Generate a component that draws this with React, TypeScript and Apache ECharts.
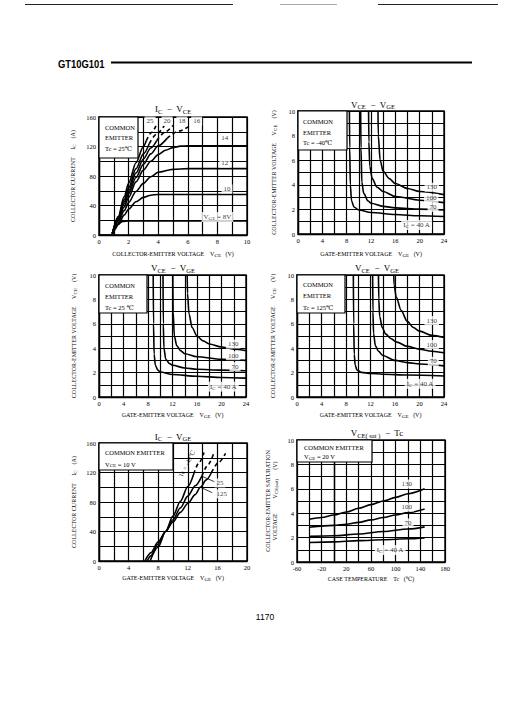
import React, { useEffect, useRef } from 'react';
import * as echarts from 'echarts';

const FONT = '"Liberation Serif", "DejaVu Serif", serif';

// ---------- Chart 1 : IC - VCE (Tc = 25°C) ----------
const vge8 = [[0, 0], [0.8, 0], [0.95, 2], [1.1, 8], [1.3, 15], [1.6, 18.5], [2, 19], [10, 19]];
const vge10 = [[0.9, 2], [1.3, 14], [1.7, 27], [2, 35], [2.5, 45], [3, 51], [3.5, 54], [4, 55], [10, 55]];
const vge12 = [[0.9, 2], [1.3, 17], [1.7, 33], [2, 44], [2.5, 59], [3, 70], [3.5, 79], [4, 85], [5, 89], [6, 90], [10, 90]];
const vge14 = [[0.9, 2], [1.3, 19], [1.7, 38], [2, 51], [2.5, 72], [3, 88], [3.5, 100], [4, 109], [4.5, 115], [5, 118.5], [5.5, 120.5], [6, 121], [10, 121]];
const vge16 = [[0.9, 2], [1.3, 21], [1.7, 42], [2, 56], [2.5, 78], [3, 96], [3.5, 110], [4, 121], [4.6, 131]];
const vge16d = [[4.6, 131], [5.4, 141], [6.2, 149]];
const vge18 = [[0.9, 2], [1.3, 22], [1.7, 45], [2, 60], [2.5, 84], [3, 103], [3.5, 118], [3.9, 128]];
const vge18d = [[3.9, 128], [4.5, 140], [5.0, 149]];
const vge20 = [[0.9, 2], [1.3, 23], [1.7, 48], [2, 64], [2.5, 90], [3, 110], [3.4, 124]];
const vge20d = [[3.4, 124], [3.9, 137], [4.4, 148]];
const vge25 = [[0.9, 2], [1.3, 25], [1.7, 52], [2, 70], [2.5, 98], [3, 120], [3.2, 128]];
const vge25d = [[3.2, 128], [3.55, 139], [3.85, 148]];
const labels1 = [
  { x: 3.45, y: 154.5, t: '25' }, { x: 4.6, y: 154.5, t: '20' }, { x: 5.6, y: 154.5, t: '18' },
  { x: 6.6, y: 154.5, t: '16' }, { x: 8.5, y: 131, t: '14' }, { x: 8.5, y: 97.5, t: '12' },
  { x: 8.65, y: 62.5, t: '10' }, { x: 8.0, y: 24.5, t: 'V{s|GE} = 8V' },
];

// ---------- Chart 2 : VCE - VGE (Tc = -40°C) ----------
const m40_40 = [[8.45, 10], [8.5, 7], [8.6, 4], [8.8, 2.7], [9.2, 2.2], [10, 1.95], [12, 1.75], [16, 1.58], [20, 1.48], [24, 1.42]];
const m40_70 = [[10.3, 10], [10.35, 7], [10.5, 4.2], [10.8, 3.3], [11.5, 2.7], [12, 2.5], [14, 2.25], [16, 2.12], [20, 2.02], [24, 1.95]];
const m40_100 = [[11.6, 10], [11.65, 7.5], [11.8, 5.5], [12.2, 4.5], [13, 3.8], [14, 3.45], [16, 3.05], [20, 2.75], [24, 2.55]];
const m40_130 = [[13.15, 10], [13.2, 8], [13.5, 6], [14, 5.1], [15, 4.5], [16, 4.1], [18, 3.7], [20, 3.45], [24, 3.2]];
const labels2 = [
  { x: 22.0, y: 3.8, t: '130' }, { x: 21.9, y: 2.9, t: '100' }, { x: 22.2, y: 2.17, t: '70' },
  { x: 19.5, y: 0.73, t: 'I{s|C} = 40 A' },
];

// ---------- Chart 3 : VCE - VGE (Tc = 25°C) ----------
const t25_40 = [[8.85, 10], [8.9, 6], [9.0, 3.5], [9.2, 2.6], [9.6, 2.2], [10, 2.05], [12, 1.85], [16, 1.7], [20, 1.6], [24, 1.55]];
const t25_70 = [[10.45, 10], [10.5, 6], [10.6, 4], [10.9, 3.1], [11.5, 2.75], [12, 2.6], [14, 2.38], [16, 2.27], [20, 2.2], [24, 2.15]];
const t25_100 = [[12.05, 10], [12.1, 7], [12.3, 5], [12.7, 4.2], [13.3, 3.8], [14, 3.55], [16, 3.3], [20, 3.1], [24, 3.0]];
const t25_130 = [[14.4, 10], [14.45, 8.5], [14.7, 6.8], [15.2, 5.7], [16, 5.0], [17, 4.6], [18, 4.35], [20, 4.1], [22, 3.92], [24, 3.8]];
const labels3 = [
  { x: 21.9, y: 4.34, t: '130' }, { x: 21.9, y: 3.39, t: '100' }, { x: 22.2, y: 2.49, t: '70' },
  { x: 20.3, y: 0.85, t: 'I{s|C} = 40 A' },
];

// ---------- Chart 4 : VCE - VGE (Tc = 125°C) ----------
const t125_40 = [[9.2, 10], [9.25, 6], [9.35, 3.5], [9.5, 2.6], [9.8, 2.2], [10.5, 2.02], [12, 1.93], [14, 1.87], [18, 1.8], [24, 1.72]];
const t125_70 = [[12.35, 10], [12.4, 7], [12.5, 5.2], [12.8, 4.2], [13.3, 3.75], [14, 3.4], [16, 3.0], [18, 2.82], [20, 2.7], [24, 2.55]];
const t125_100 = [[13.3, 10], [13.35, 8], [13.5, 6.6], [13.9, 5.7], [14.5, 5.15], [15.3, 4.8], [16.3, 4.5], [18, 4.15], [20, 3.92], [22, 3.75], [24, 3.62]];
const t125_130 = [[15.8, 10], [15.85, 9.2], [16.2, 8.2], [17, 7.1], [18, 6.2], [19, 5.7], [20, 5.4], [22, 5.05], [24, 4.88]];
const labels4 = [
  { x: 22.0, y: 6.27, t: '130' }, { x: 22.0, y: 4.3, t: '100' }, { x: 22.25, y: 2.93, t: '70' },
  { x: 20.1, y: 1.08, t: 'I{s|C} = 40 A' },
];

// ---------- Chart 5 : IC - VGE (VCE = 10 V) ----------
const tcM40 = [[6.9, 0], [8, 19], [9, 40], [10, 61], [11, 81], [12, 101], [12.8, 118]];
const tcM40d = [[12.8, 118], [13.5, 133], [14.2, 147]];
const tc25 = [[6.5, 0], [7, 7], [8, 23], [9, 40], [10, 56], [11, 72], [12, 88], [13, 102], [13.9, 115]];
const tc25d = [[13.9, 115], [14.7, 130], [15.5, 146]];
const tc125 = [[6.2, 0], [7, 11], [8, 26], [9, 40], [10, 53], [11, 66], [12, 78], [13, 90], [13.7, 100], [14.5, 110], [15.2, 120]];
const tc125d = [[15.2, 120], [16.2, 134], [17.1, 146]];
const leader25 = [[13.9, 115], [15.6, 107.5]];
const leader125 = [[13.7, 100], [15.3, 92.6]];
const labels5 = [{ x: 16.35, y: 105.8, t: '25' }, { x: 16.6, y: 91, t: '125' }];

// ---------- Chart 6 : VCE(sat) - Tc (VGE = 20 V) ----------
const sat130 = [[-40, 3.5], [-20, 3.65], [0, 3.85], [20, 4.1], [40, 4.4], [60, 4.7], [80, 5.0], [100, 5.3], [120, 5.6], [147, 6.0]];
const sat100 = [[-40, 2.85], [0, 3.0], [20, 3.1], [40, 3.25], [60, 3.45], [80, 3.65], [100, 3.85], [120, 4.05], [147, 4.35]];
const sat70 = [[-40, 2.1], [0, 2.15], [40, 2.3], [80, 2.5], [120, 2.7], [147, 2.88]];
const sat40 = [[-40, 1.6], [0, 1.65], [40, 1.75], [80, 1.82], [120, 1.9], [147, 1.97]];
const labels6 = [
  { x: 118, y: 6.39, t: '130' }, { x: 118, y: 4.5, t: '100' }, { x: 120, y: 3.2, t: '70' },
  { x: 91, y: 0.98, t: 'I{s|C} = 40 A' },
];

const SUB = { s: { fontSize: 5, fontFamily: FONT, color: '#000', padding: [3, 0, 0, 0] } };
const GRIDLINE = { color: '#000', width: 1.2 };

function xAx(gi: number, min: number, max: number, interval: number, every: number, name: string, gap: number) {
  return {
    type: 'value', gridIndex: gi, min, max, interval,
    name, nameLocation: 'middle', nameGap: gap,
    nameTextStyle: { fontSize: 6, fontFamily: FONT, color: '#000', rich: SUB },
    axisLine: { show: true, lineStyle: { color: '#000', width: 1.4 } },
    axisTick: { show: false },
    axisLabel: {
      fontSize: 6.5, fontFamily: FONT, color: '#000', margin: 3,
      formatter: (v: number) => (Math.round((v - min) / interval) % every === 0 ? String(v) : ''),
    },
    splitLine: { show: true, lineStyle: GRIDLINE },
  };
}
function yAx(gi: number, min: number, max: number, interval: number, every: number, name: string, gap: number) {
  return {
    type: 'value', gridIndex: gi, min, max, interval,
    name, nameLocation: 'middle', nameGap: gap, nameRotate: 90,
    nameTextStyle: { fontSize: 6, fontFamily: FONT, color: '#000', rich: SUB, lineHeight: 7 },
    axisLine: { show: true, lineStyle: { color: '#000', width: 1.4 } },
    axisTick: { show: false },
    axisLabel: {
      fontSize: 6.5, fontFamily: FONT, color: '#000', margin: 3,
      formatter: (v: number) => (Math.round((v - min) / interval) % every === 0 ? String(v) : ''),
    },
    splitLine: { show: true, lineStyle: GRIDLINE },
  };
}
function curve(gi: number, data: number[][], dashed = false, width = 1.6) {
  return {
    type: 'line', xAxisIndex: gi, yAxisIndex: gi, data, symbol: 'none', silent: true,
    smooth: 0.3, smoothMonotone: 'x', z: 3,
    lineStyle: { color: '#000', width, type: dashed ? [4, 3] : 'solid' },
  };
}
function labelSeries(gi: number, items: { x: number; y: number; t: string }[]) {
  return {
    type: 'scatter', xAxisIndex: gi, yAxisIndex: gi, symbolSize: 1, silent: true, z: 6,
    itemStyle: { color: 'rgba(0,0,0,0)' },
    data: items.map((it) => ({ value: [it.x, it.y], name: it.t })),
    label: {
      show: true, position: 'inside', formatter: '{b}', color: '#000', fontSize: 7, fontFamily: FONT,
      textBorderWidth: 0, backgroundColor: '#fff', padding: [1, 2], rich: SUB,
    },
  };
}
function title(x: number, y: number, text: string) {
  return {
    type: 'text', x, y, z: 20,
    style: { text, fill: '#000', fontSize: 9, fontFamily: FONT, align: 'center', verticalAlign: 'middle', rich: { s: { fontSize: 6.5, fontFamily: FONT, fill: '#000', padding: [4, 0, 0, 0] } } },
  };
}
function box(x: number, y: number, w: number, h: number, lines: { t: string; dy: number }[], tx: number) {
  return {
    type: 'group', x, y, z: 30,
    children: [
      { type: 'rect', shape: { x: 0, y: 0, width: w, height: h }, style: { fill: '#fff', stroke: '#000', lineWidth: 1.2 }, z: 30 },
      ...lines.map((l) => ({
        type: 'text', x: tx, y: l.dy, z: 31,
        style: { text: l.t, fill: '#000', fontSize: 6.5, fontFamily: FONT, verticalAlign: 'middle', rich: SUB },
      })),
    ],
  };
}

export default function App() {
  const ref = useRef<HTMLDivElement>(null);
  useEffect(() => {
    if (!ref.current) return;
    const chart = echarts.init(ref.current, undefined, { renderer: 'svg' });
    const gridBase = { show: true, borderColor: '#000', borderWidth: 1.4, backgroundColor: 'transparent' };
    chart.setOption({
      animation: false,
      backgroundColor: '#fff',
      grid: [
        { ...gridBase, left: 99, top: 117, width: 148, height: 118 },
        { ...gridBase, left: 298, top: 111, width: 146, height: 123 },
        { ...gridBase, left: 99, top: 275, width: 147, height: 122 },
        { ...gridBase, left: 297, top: 275, width: 147, height: 122 },
        { ...gridBase, left: 99, top: 443, width: 148, height: 118 },
        { ...gridBase, left: 297, top: 440, width: 148, height: 122 },
      ],
      xAxis: [
        xAx(0, 0, 10, 1, 2, 'COLLECTOR-EMITTER VOLTAGE    V{s|CE}   (V)', 15),
        xAx(1, 0, 24, 2, 2, 'GATE-EMITTER VOLTAGE    V{s|GE}   (V)', 16),
        xAx(2, 0, 24, 2, 2, 'GATE-EMITTER VOLTAGE    V{s|GE}   (V)', 14),
        xAx(3, 0, 24, 2, 2, 'GATE-EMITTER VOLTAGE    V{s|GE}   (V)', 14),
        xAx(4, 0, 20, 2, 2, 'GATE-EMITTER VOLTAGE    V{s|GE}   (V)', 13),
        xAx(5, -60, 180, 20, 2, 'CASE TEMPERATURE    Tc   (℃)', 14),
      ],
      yAxis: [
        yAx(0, 0, 160, 20, 2, 'COLLECTOR CURRENT     I{s|C}    (A)', 23),
        yAx(1, 0, 10, 1, 2, 'COLLECTOR-EMITTER VOLTAGE     V{s|CE}    (V)', 21),
        yAx(2, 0, 10, 1, 2, 'COLLECTOR-EMITTER VOLTAGE     V{s|CE}    (V)', 22),
        yAx(3, 0, 10, 1, 2, 'COLLECTOR-EMITTER VOLTAGE     V{s|CE}    (V)', 21),
        yAx(4, 0, 160, 20, 2, 'COLLECTOR CURRENT     I{s|C}    (A)', 22),
        yAx(5, 0, 10, 1, 2, 'COLLECTOR-EMITTER SATURATION\nVOLTAGE          V{s|CE(sat)}      (V)', 19),
      ],
      series: [
        curve(0, vge8), curve(0, vge10), curve(0, vge12), curve(0, vge14),
        curve(0, vge16), curve(0, vge16d, true), curve(0, vge18), curve(0, vge18d, true),
        curve(0, vge20), curve(0, vge20d, true), curve(0, vge25), curve(0, vge25d, true),
        labelSeries(0, labels1),
        curve(1, m40_40), curve(1, m40_70), curve(1, m40_100), curve(1, m40_130), labelSeries(1, labels2),
        curve(2, t25_40), curve(2, t25_70), curve(2, t25_100), curve(2, t25_130), labelSeries(2, labels3),
        curve(3, t125_40), curve(3, t125_70), curve(3, t125_100), curve(3, t125_130), labelSeries(3, labels4),
        curve(4, tcM40), curve(4, tcM40d, true), curve(4, tc25), curve(4, tc25d, true),
        curve(4, tc125), curve(4, tc125d, true),
        curve(4, leader25, false, 0.8), curve(4, leader125, false, 0.8),
        labelSeries(4, labels5),
        {
          type: 'scatter', xAxisIndex: 4, yAxisIndex: 4, symbolSize: 1, silent: true, z: 6,
          itemStyle: { color: 'rgba(0,0,0,0)' },
          data: [{ value: [11.85, 132], name: 'Tc = -40℃' }],
          label: { show: true, position: 'inside', formatter: '{b}', rotate: 63, color: '#000', textBorderWidth: 0, fontSize: 6.5, fontFamily: FONT },
        },
        curve(5, sat130), curve(5, sat100), curve(5, sat70), curve(5, sat40), labelSeries(5, labels6),
      ],
      graphic: [
        // top page lines
        { type: 'line', shape: { x1: 25, y1: 4.5, x2: 233, y2: 4.5 }, style: { stroke: '#222', lineWidth: 1 } },
        { type: 'line', shape: { x1: 280, y1: 4.5, x2: 337, y2: 4.5 }, style: { stroke: '#aaa', lineWidth: 1 } },
        { type: 'line', shape: { x1: 378, y1: 4.5, x2: 498, y2: 4.5 }, style: { stroke: '#222', lineWidth: 1 } },
        // header
        {
          type: 'text', x: 58, y: 64, scaleX: 0.82,
          style: { text: 'GT10G101', fill: '#000', fontSize: 11.5, fontWeight: 'bold', fontFamily: '"Liberation Sans Narrow", "Liberation Sans", Arial, sans-serif', verticalAlign: 'middle' },
        },
        { type: 'line', shape: { x1: 111, y1: 62.5, x2: 472, y2: 62.5 }, style: { stroke: '#000', lineWidth: 2 } },
        // titles
        title(173, 109, 'I{s|C}  −  V{s|CE}'),
        title(373, 104.5, 'V{s|CE}  −  V{s|GE}'),
        title(173, 268, 'V{s|CE}  −  V{s|GE}'),
        title(377, 268, 'V{s|CE}  −  V{s|GE}'),
        title(173, 436.5, 'I{s|C}  −  V{s|GE}'),
        title(377, 433, 'V{s|CE( sat )}  −  Tc'),
        // condition boxes
        box(99, 117, 39, 41, [{ t: 'COMMON', dy: 10 }, { t: 'EMITTER', dy: 20.5 }, { t: 'Tc = 25℃', dy: 31 }], 6),
        box(298, 111, 49, 39, [{ t: 'COMMON', dy: 10.5 }, { t: 'EMITTER', dy: 21 }, { t: 'Tc = -40℃', dy: 31.5 }], 5),
        box(99, 275, 48, 38, [{ t: 'COMMON', dy: 10 }, { t: 'EMITTER', dy: 21 }, { t: 'Tc = 25 ℃', dy: 32 }], 6),
        box(297, 275, 48, 38, [{ t: 'COMMON', dy: 9.5 }, { t: 'EMITTER', dy: 20.5 }, { t: 'Tc = 125℃', dy: 32 }], 6),
        box(99, 443, 74, 27, [{ t: 'COMMON EMITTER', dy: 9.5 }, { t: 'V{s|CE} = 10 V', dy: 21 }], 6),
        box(297, 440, 75, 22, [{ t: 'COMMON EMITTER', dy: 7 }, { t: 'V{s|GE} = 20 V', dy: 16.5 }], 7),
        // page number
        {
          type: 'text', x: 265, y: 617,
          style: { text: '1170', fill: '#000', fontSize: 8.5, fontFamily: '"Liberation Sans", Arial, sans-serif', align: 'center', verticalAlign: 'middle' },
        },
      ],
    });
    return () => chart.dispose();
  }, []);
  return <div ref={ref} style={{ position: 'absolute', left: 0, top: 0, width: 506, height: 709 }} />;
}
